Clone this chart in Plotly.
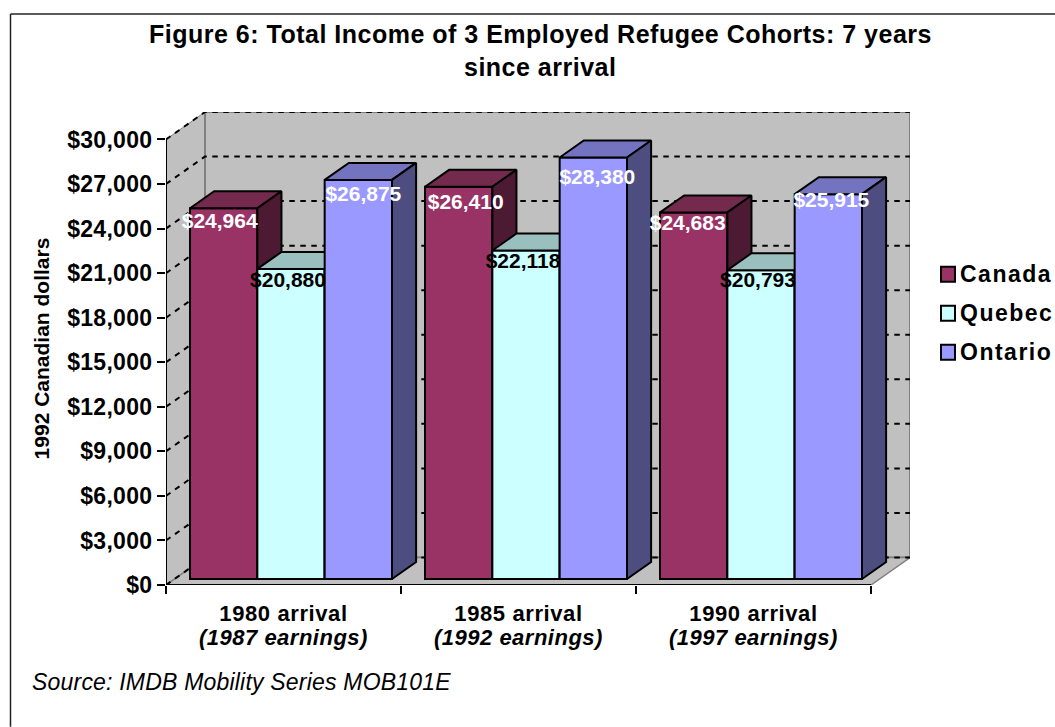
"""Figure 6: total income of 3 employed refugee cohorts, drawn as a faux-3D clustered bar chart."""

import plotly.graph_objects as go

# ---------------------------------------------------------------------------
# Data
# ---------------------------------------------------------------------------
CATEGORIES = ["1980 arrival", "1985 arrival", "1990 arrival"]
EARNINGS = ["(1987 earnings)", "(1992 earnings)", "(1997 earnings)"]
CANADA = [24964, 26410, 24683]
QUEBEC = [20880, 22118, 20793]
ONTARIO = [26875, 28380, 25915]
Y_TICKS = [0, 3000, 6000, 9000, 12000, 15000, 18000, 21000, 24000, 27000, 30000]

SERIES = [
    ("Canada", CANADA, "#993366", "#732A4D", "#4D1A33", "white"),
    ("Quebec", QUEBEC, "#CCFFFF", "#99BFBF", "#668080", "black"),
    ("Ontario", ONTARIO, "#9999FF", "#7373BF", "#4D4D80", "white"),
]

# Excel nudges its labels off the bar centre, offsets in pixels per series/category
LABEL_DX = [[-4, 7, -6], [-3, -3, -3], [5, 4, 3]]
LABEL_DROP = [[14, 17, 12], [13, 12, 12], [16, 21, 8]]

# ---------------------------------------------------------------------------
# Geometry of the projected box
# ---------------------------------------------------------------------------
W, H = 1055, 727
LEFT, RIGHT, TOP, BOTTOM = 166, 910, 111.5, 585
PX_X = 235  # pixels per category slot
PX_Y = 446 / 30000  # pixels per dollar
DEPTH_X = 39 / PX_X  # full box depth, in x units
DEPTH_Y = 27.5 / PX_Y  # full box depth, in y units
BAR_FRONT, BAR_BACK = 6 / 27.5, 23 / 27.5  # bar position inside the depth
BAR_W = 0.2865
GAP = 0.066
X_MAX = (RIGHT - LEFT) / PX_X
Y_MAX = (BOTTOM - TOP) / PX_Y

FONT = "Liberation Sans"


def spaced(text, px):
    """Excel's rendering is tracked out a little, so add letter spacing."""
    return f"<span style='letter-spacing:{px}px'>{text}</span>"


def paper_x(px):
    return (px - LEFT) / (RIGHT - LEFT)


def paper_y(py):
    return (BOTTOM - py) / (BOTTOM - TOP)


def project(x, y, d):
    return x + d * DEPTH_X, y + d * DEPTH_Y


def poly(points):
    xs, ys = zip(*[project(*p) for p in points + points[:1]])
    return list(xs), list(ys)


fig = go.Figure()


def face(xs, ys, fill, line, zorder, width=1.5):
    fig.add_trace(go.Scatter(
        x=xs, y=ys, mode="lines", fill="toself", fillcolor=fill,
        line=dict(color=line, width=width), hoverinfo="skip",
        showlegend=False, zorder=zorder, cliponaxis=False,
    ))


# ---- Walls and floor ----
face(*poly([(0, 0, 0), (0, 0, 1), (0, Y_MAX - DEPTH_Y, 1), (0, Y_MAX - DEPTH_Y, 0)]), "#C0C0C0", "#808080", 0, 1)
face(*poly([(0, 0, 1), (3, 0, 1), (3, Y_MAX - DEPTH_Y, 1), (0, Y_MAX - DEPTH_Y, 1)]), "#C0C0C0", "#808080", 0, 2)
face(*poly([(0, 0, 0), (3, 0, 0), (3, 0, 1), (0, 0, 1)]), "#C0C0C0", "#808080", 0, 1.5)

# ---- Dashed gridlines on both walls ----
grid_x, grid_y = [], []
for tick in Y_TICKS:
    for x, y in (project(0, tick, 0), project(0, tick, 1), project(3, tick, 1)):
        grid_x.append(x)
        grid_y.append(y)
    grid_x.append(None)
    grid_y.append(None)
fig.add_trace(go.Scatter(
    x=grid_x, y=grid_y, mode="lines", line=dict(color="black", width=2, dash="5.5px,5.5px"),
    hoverinfo="skip", showlegend=False, zorder=0, cliponaxis=False,
))

# ---- Axis lines (the plot area is larger than the front of the box) ----
fig.add_trace(go.Scatter(
    x=[0, 0, None, 0, 3], y=[30000, 0, None, 0, 0], mode="lines",
    line=dict(color="black", width=2), hoverinfo="skip", showlegend=False,
    zorder=30, cliponaxis=False,
))

# ---- Bars, painted left to right so each front hides its neighbour's side ----
label_x, label_y, label_text, label_color = [], [], [], []
for s, (name, values, front, top, side, text_color) in enumerate(SERIES):
    xs = [i + GAP + s * BAR_W for i in range(len(values))]
    z = 2 * s + 1
    fig.add_trace(go.Bar(
        x=[project(x + BAR_W / 2, 0, BAR_FRONT)[0] for x in xs],
        y=values,
        base=BAR_FRONT * DEPTH_Y,
        width=BAR_W,
        name=name,
        showlegend=False,
        marker=dict(color=front, line=dict(color="black", width=2)),
        zorder=z,
    ))
    for i, (x, v) in enumerate(zip(xs, values)):
        x2 = x + BAR_W
        face(*poly([(x, v, BAR_FRONT), (x2, v, BAR_FRONT), (x2, v, BAR_BACK), (x, v, BAR_BACK)]), top, "black", z + 1, 2)
        face(*poly([(x2, 0, BAR_FRONT), (x2, v, BAR_FRONT), (x2, v, BAR_BACK), (x2, 0, BAR_BACK)]), side, "black", z + 1, 2)
        lx, ly = project(x + BAR_W / 2, v, BAR_FRONT)
        label_x.append(lx + LABEL_DX[s][i] / PX_X)
        label_y.append(ly - LABEL_DROP[s][i] / PX_Y)
        label_text.append(f"${v:,}")
        label_color.append(text_color)

fig.add_trace(go.Scatter(
    x=label_x, y=label_y, text=label_text, mode="text", textposition="middle center",
    textfont=dict(family=FONT, size=21, color=label_color, weight="bold"),
    hoverinfo="skip", showlegend=False, zorder=20, cliponaxis=False,
))

# ---- Chart frame (only its top and left edges fall inside the picture) ----
fig.add_shape(type="line", xref="paper", yref="paper", x0=paper_x(10.5), x1=paper_x(W), y0=paper_y(13.5), y1=paper_y(13.5),
              line=dict(color="#222222", width=1.5))
fig.add_shape(type="line", xref="paper", yref="paper", x0=paper_x(10.5), x1=paper_x(10.5), y0=paper_y(13.5), y1=paper_y(H),
              line=dict(color="#222222", width=1.5))


def note(text, px, py, size, bold=False, anchor="center", xref="paper"):
    fig.add_annotation(
        text=text, xref=xref, yref="paper",
        x=paper_x(px) if xref == "paper" else px, y=paper_y(py),
        xanchor=anchor, yanchor="middle", showarrow=False,
        font=dict(family=FONT, size=size, color="black", weight="bold" if bold else "normal"),
    )


note(spaced("Figure 6: Total Income of 3 Employed Refugee Cohorts: 7 years", 0.5), 540, 33, 25, bold=True)
note(spaced("since arrival", 0.5), 540, 66, 25, bold=True)
note(spaced("<i>Source: IMDB Mobility Series MOB101E</i>", 0.2), 30, 682, 23, anchor="left")

# second line of the category labels sits closer than plotly's <br> line height
for i, earn in enumerate(EARNINGS):
    note(f"<i>{spaced(earn, 0.5)}</i>", i + 0.5, 637.5, 22, bold=True, xref="x")

# ---- Legend keys drawn by hand, Excel packs them tighter than plotly's legend ----
for (name, _, front, *_rest), py in zip(SERIES, [274, 313, 352]):
    fig.add_shape(type="rect", xref="paper", yref="paper",
                  x0=paper_x(941), x1=paper_x(955), y0=paper_y(py - 7.5), y1=paper_y(py + 7.5),
                  fillcolor=front, line=dict(color="black", width=2))
    note(spaced(name, 1.5), 958, py, 23, bold=True, anchor="left")

fig.update_layout(
    width=W, height=H, autosize=False,
    margin=dict(l=LEFT, r=W - RIGHT, t=TOP, b=H - BOTTOM, pad=0),
    paper_bgcolor="white", plot_bgcolor="white",
    barmode="overlay",
    showlegend=False,
    font=dict(family=FONT, color="black"),
    xaxis=dict(
        range=[0, X_MAX], showgrid=False, zeroline=False, showline=False,
        tickmode="array", tickvals=[0.5, 1.5, 2.5],
        ticktext=[spaced(c, 0.6) for c in CATEGORIES],
        ticks="", ticklabelstandoff=13,
        tickfont=dict(family=FONT, size=22, color="black", weight="bold"),
        minor=dict(tickmode="array", tickvals=[0, 1, 2, 3], ticks="outside", ticklen=8, tickwidth=1.5, tickcolor="black"),
    ),
    yaxis=dict(
        range=[0, Y_MAX], showgrid=False, zeroline=False, showline=False,
        tickmode="array", tickvals=Y_TICKS, ticktext=[spaced(f"${t:,}", 0.3) for t in Y_TICKS],
        ticks="outside", ticklen=8, tickwidth=1.5, tickcolor="black",
        tickfont=dict(family=FONT, size=23, color="black", weight="bold"),
        title=dict(text="1992 Canadian dollars", standoff=11,
                   font=dict(family=FONT, size=21, color="black", weight="bold")),
    ),
)

# the reference fills the page edge to edge, so drop the default body margin
fig.write_html(
    "out.html",
    config={"displayModeBar": False},
    post_script="document.body.style.margin='0';document.body.style.overflow='hidden';",
)
